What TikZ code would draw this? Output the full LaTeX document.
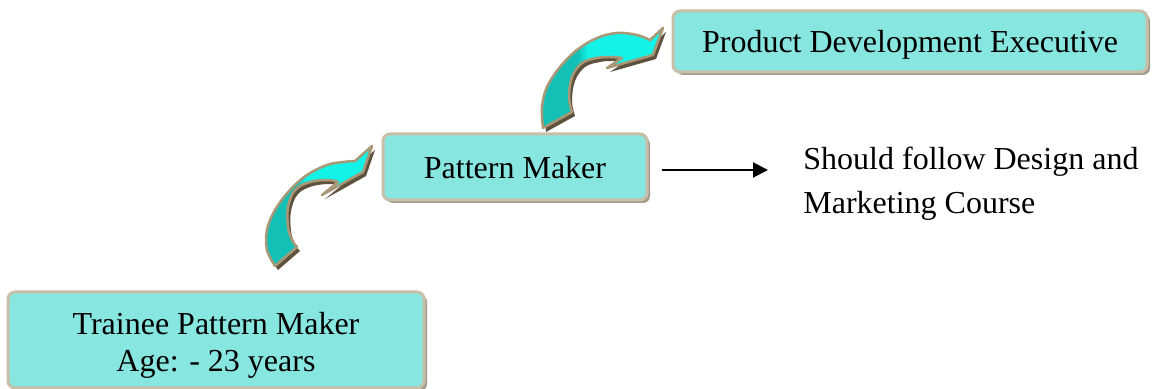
\documentclass[tikz,border=0pt]{standalone}
\usepackage{fontspec}
\setmainfont{Liberation Serif}
\usetikzlibrary{arrows.meta,shadows}
\definecolor{boxfill}{HTML}{88E6E0}
\definecolor{boxedge}{HTML}{C8BFA9}
\definecolor{boxshadow}{HTML}{A39C8C}
\definecolor{arrteal}{HTML}{12C0B6}
\definecolor{arrcyan}{HTML}{12F2E6}
\definecolor{arredge}{HTML}{A89878}
\definecolor{arrshadow}{HTML}{5E523E}
\pgfdeclarehorizontalshading{arrowshade}{100bp}{color(0bp)=(arrteal); color(40bp)=(arrteal); color(44bp)=(arrcyan); color(100bp)=(arrcyan)}
\begin{document}
\begin{tikzpicture}[x=0.5pt,y=-0.5pt,
  box/.style={draw=boxedge, line width=1.5pt, fill=boxfill, rounded corners=3.5pt,
    font=\fontsize{16}{18.5}\selectfont, align=center, inner sep=0pt, text depth=0pt,
    drop shadow={shadow xshift=1.5pt, shadow yshift=-1.5pt, fill=boxshadow, opacity=1}},
  curvearrow/.style={draw=arredge, line width=1.25pt, line join=round, shade, shading=arrowshade,
    drop shadow={shadow xshift=1.5pt, shadow yshift=-2pt, fill=arrshadow, opacity=1}},
  link/.style={line width=1pt, -{Triangle[length=7.5pt,width=7.5pt]}},
  note/.style={anchor=west, inner sep=0pt, align=left, font=\fontsize{16}{22}\selectfont}]
\useasboundingbox (0,0) rectangle (1152,389);
% boxes
\node[box, minimum width=208pt, minimum height=48pt] (trainee) at (216,340)
  {\rule{0pt}{13.5pt}Trainee Pattern Maker\\Age: - 23 years};
\node[box, minimum width=132pt, minimum height=33pt] (pm) at (515,167) {Pattern Maker};
\node[box, minimum width=237pt, minimum height=30.5pt] (pde) at (910,41.5) {Product Development Executive};
% note
\node[note] (course) at (803,184) {Should follow Design and\\Marketing Course};
\coordinate (ay) at (0,170);
\draw[link, shorten <=6.5pt, shorten >=17.5pt] (pm.east |- ay) -- (course.west |- ay);
% curved arrows
\path[curvearrow] (275,266) -- plot[smooth, tension=0.6] coordinates {(275,266) (267,250) (267,230) (275,210) (290,190) (307,175) (327,165) (343,162) (355,161)}
  -- (372,146) -- (363,172) -- (322,195) -- (338,182)
  -- plot[smooth, tension=0.6] coordinates {(338,182) (328,180) (310,182) (295,190) (288,207) (288,227) (292,240) (297,247)} -- cycle;
\path[curvearrow] (543,128) -- plot[smooth, tension=0.6] coordinates {(543,128) (542,107) (547,87) (560,67) (577,50) (597,38) (617,33) (637,35) (650,40)}
  -- (663,28) -- (653,55) -- (607,68) -- (622,58)
  -- plot[smooth, tension=0.6] coordinates {(622,58) (610,57) (597,58) (582,63) (572,77) (569,97) (572,112)} -- cycle;
\end{tikzpicture}
\end{document}
